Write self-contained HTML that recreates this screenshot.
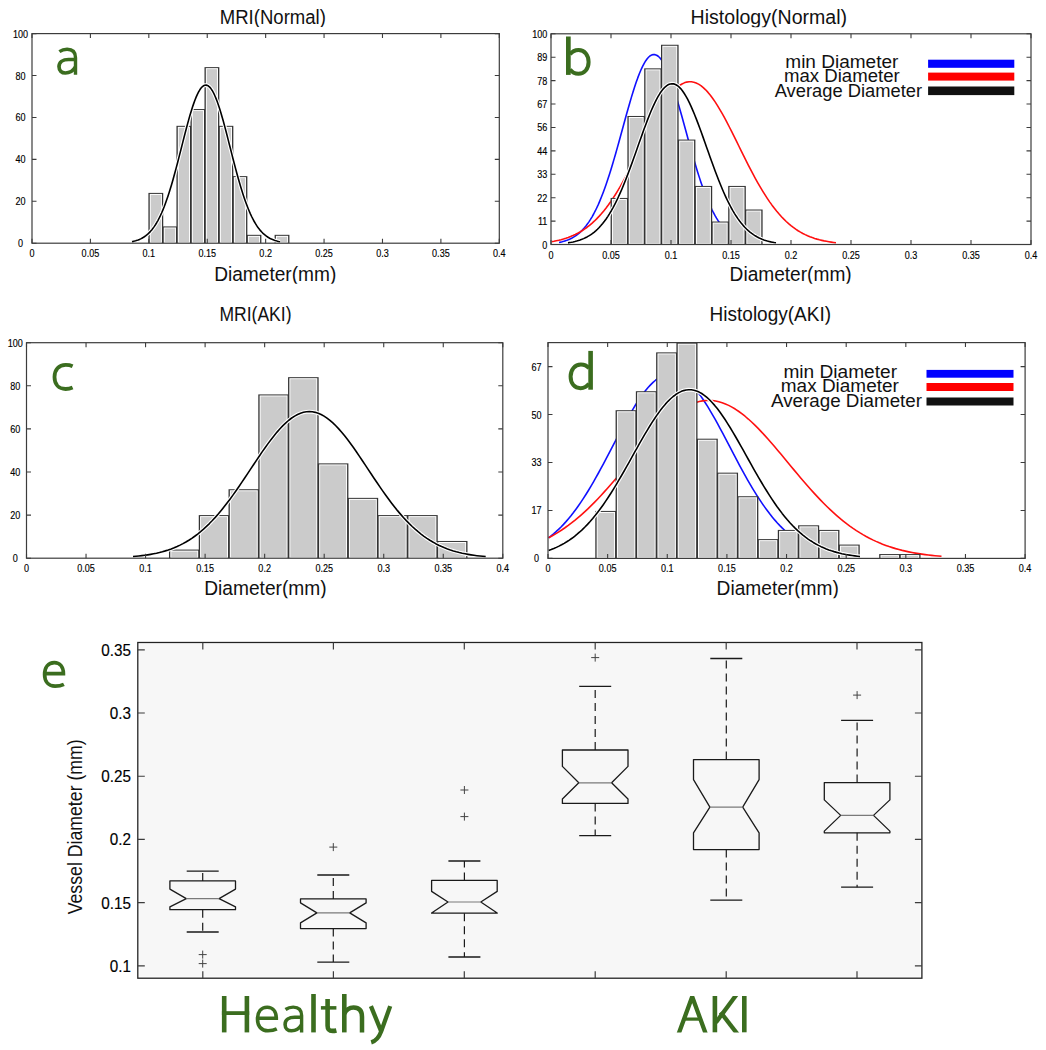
<!DOCTYPE html><html><head><meta charset="utf-8"><title>Figure</title><style>html,body{margin:0;padding:0;background:#fff;}svg{display:block;}</style></head><body><svg width="1046" height="1050" viewBox="0 0 1046 1050">
<style>.tk{font-family:"Liberation Sans",sans-serif;font-size:10.3px;fill:#000;stroke:#000;stroke-width:0.15px}.tt{font-family:"Liberation Sans",sans-serif;fill:#111}.lt{font-family:"Liberation Sans",sans-serif;fill:#3b6d1f}.ek{font-family:"Liberation Sans",sans-serif;font-size:16.6px;fill:#000;stroke:#000;stroke-width:0.15px}</style>
<rect width="1046" height="1050" fill="#ffffff"/>
<rect x="148.42" y="192.90" width="14.82" height="50.30" fill="#333333"/>
<rect x="149.72" y="193.90" width="12.22" height="49.30" fill="#ffffff"/>
<rect x="150.72" y="194.90" width="10.22" height="47.30" fill="#cbcbcb"/>
<rect x="162.44" y="226.43" width="14.82" height="16.77" fill="#333333"/>
<rect x="163.74" y="227.43" width="12.22" height="15.77" fill="#ffffff"/>
<rect x="164.74" y="228.43" width="10.22" height="13.77" fill="#cbcbcb"/>
<rect x="176.46" y="125.82" width="14.82" height="117.38" fill="#333333"/>
<rect x="177.76" y="126.82" width="12.22" height="116.38" fill="#ffffff"/>
<rect x="178.76" y="127.82" width="10.22" height="114.38" fill="#cbcbcb"/>
<rect x="190.48" y="109.06" width="14.82" height="134.14" fill="#333333"/>
<rect x="191.78" y="110.06" width="12.22" height="133.14" fill="#ffffff"/>
<rect x="192.78" y="111.06" width="10.22" height="131.14" fill="#cbcbcb"/>
<rect x="204.50" y="67.14" width="14.82" height="176.06" fill="#333333"/>
<rect x="205.80" y="68.14" width="12.22" height="175.06" fill="#ffffff"/>
<rect x="206.80" y="69.14" width="10.22" height="173.06" fill="#cbcbcb"/>
<rect x="218.52" y="125.82" width="14.82" height="117.38" fill="#333333"/>
<rect x="219.82" y="126.82" width="12.22" height="116.38" fill="#ffffff"/>
<rect x="220.82" y="127.82" width="10.22" height="114.38" fill="#cbcbcb"/>
<rect x="232.54" y="176.13" width="14.82" height="67.07" fill="#333333"/>
<rect x="233.84" y="177.13" width="12.22" height="66.07" fill="#ffffff"/>
<rect x="234.84" y="178.13" width="10.22" height="64.07" fill="#cbcbcb"/>
<rect x="246.56" y="234.82" width="14.82" height="8.38" fill="#333333"/>
<rect x="247.86" y="235.82" width="12.22" height="7.38" fill="#ffffff"/>
<rect x="248.86" y="236.82" width="10.22" height="5.38" fill="#cbcbcb"/>
<rect x="274.60" y="234.82" width="14.82" height="8.38" fill="#333333"/>
<rect x="275.90" y="235.82" width="12.22" height="7.38" fill="#ffffff"/>
<rect x="276.90" y="236.82" width="10.22" height="5.38" fill="#cbcbcb"/>
<path d="M132.00,241.63L133.23,241.37L134.47,241.07L135.70,240.73L136.93,240.35L138.17,239.91L139.40,239.42L140.63,238.86L141.87,238.24L143.10,237.53L144.33,236.75L145.57,235.88L146.80,234.90L148.03,233.83L149.27,232.64L150.50,231.33L151.73,229.90L152.97,228.33L154.20,226.61L155.43,224.75L156.67,222.73L157.90,220.54L159.13,218.19L160.37,215.67L161.60,212.97L162.83,210.08L164.07,207.02L165.30,203.78L166.53,200.35L167.77,196.75L169.00,192.97L170.23,189.03L171.47,184.93L172.70,180.68L173.93,176.29L175.17,171.78L176.40,167.15L177.63,162.44L178.87,157.66L180.10,152.83L181.33,147.97L182.57,143.10L183.80,138.26L185.03,133.47L186.27,128.75L187.50,124.14L188.73,119.66L189.97,115.34L191.20,111.21L192.43,107.30L193.67,103.63L194.90,100.23L196.13,97.13L197.37,94.34L198.60,91.89L199.83,89.79L201.07,88.07L202.30,86.73L203.53,85.79L204.77,85.24L206.00,85.11L207.23,85.37L208.47,86.05L209.70,87.12L210.93,88.59L212.17,90.43L213.40,92.65L214.63,95.21L215.87,98.10L217.10,101.30L218.33,104.79L219.57,108.54L220.80,112.53L222.03,116.72L223.27,121.09L224.50,125.62L225.73,130.27L226.97,135.01L228.20,139.83L229.43,144.68L230.67,149.54L231.90,154.40L233.13,159.22L234.37,163.98L235.60,168.66L236.83,173.25L238.07,177.73L239.30,182.07L240.53,186.28L241.77,190.33L243.00,194.22L244.23,197.94L245.47,201.48L246.70,204.85L247.93,208.03L249.17,211.04L250.40,213.86L251.63,216.51L252.87,218.97L254.10,221.27L255.33,223.40L256.57,225.37L257.80,227.18L259.03,228.85L260.27,230.38L261.50,231.77L262.73,233.04L263.97,234.19L265.20,235.23L266.43,236.17L267.67,237.01L268.90,237.77L270.13,238.45L271.37,239.05L272.60,239.59L273.83,240.06L275.07,240.48L276.30,240.85L277.53,241.17L278.77,241.46L280.00,241.71" fill="none" stroke="#ffffff" stroke-width="3.8000000000000003" stroke-linejoin="round"/>
<path d="M132.00,241.63L133.23,241.37L134.47,241.07L135.70,240.73L136.93,240.35L138.17,239.91L139.40,239.42L140.63,238.86L141.87,238.24L143.10,237.53L144.33,236.75L145.57,235.88L146.80,234.90L148.03,233.83L149.27,232.64L150.50,231.33L151.73,229.90L152.97,228.33L154.20,226.61L155.43,224.75L156.67,222.73L157.90,220.54L159.13,218.19L160.37,215.67L161.60,212.97L162.83,210.08L164.07,207.02L165.30,203.78L166.53,200.35L167.77,196.75L169.00,192.97L170.23,189.03L171.47,184.93L172.70,180.68L173.93,176.29L175.17,171.78L176.40,167.15L177.63,162.44L178.87,157.66L180.10,152.83L181.33,147.97L182.57,143.10L183.80,138.26L185.03,133.47L186.27,128.75L187.50,124.14L188.73,119.66L189.97,115.34L191.20,111.21L192.43,107.30L193.67,103.63L194.90,100.23L196.13,97.13L197.37,94.34L198.60,91.89L199.83,89.79L201.07,88.07L202.30,86.73L203.53,85.79L204.77,85.24L206.00,85.11L207.23,85.37L208.47,86.05L209.70,87.12L210.93,88.59L212.17,90.43L213.40,92.65L214.63,95.21L215.87,98.10L217.10,101.30L218.33,104.79L219.57,108.54L220.80,112.53L222.03,116.72L223.27,121.09L224.50,125.62L225.73,130.27L226.97,135.01L228.20,139.83L229.43,144.68L230.67,149.54L231.90,154.40L233.13,159.22L234.37,163.98L235.60,168.66L236.83,173.25L238.07,177.73L239.30,182.07L240.53,186.28L241.77,190.33L243.00,194.22L244.23,197.94L245.47,201.48L246.70,204.85L247.93,208.03L249.17,211.04L250.40,213.86L251.63,216.51L252.87,218.97L254.10,221.27L255.33,223.40L256.57,225.37L257.80,227.18L259.03,228.85L260.27,230.38L261.50,231.77L262.73,233.04L263.97,234.19L265.20,235.23L266.43,236.17L267.67,237.01L268.90,237.77L270.13,238.45L271.37,239.05L272.60,239.59L273.83,240.06L275.07,240.48L276.30,240.85L277.53,241.17L278.77,241.46L280.00,241.71" fill="none" stroke="#000" stroke-width="1.6" stroke-linejoin="round"/>
<rect x="32.00" y="33.60" width="467.30" height="209.60" fill="none" stroke="#3c3c3c" stroke-width="1.2"/>
<path d="M32.00,243.20v-4.5M32.00,33.60v4.5M90.41,243.20v-4.5M90.41,33.60v4.5M148.82,243.20v-4.5M148.82,33.60v4.5M207.24,243.20v-4.5M207.24,33.60v4.5M265.65,243.20v-4.5M265.65,33.60v4.5M324.06,243.20v-4.5M324.06,33.60v4.5M382.48,243.20v-4.5M382.48,33.60v4.5M440.89,243.20v-4.5M440.89,33.60v4.5M499.30,243.20v-4.5M499.30,33.60v4.5M32.00,243.20h4.5M499.30,243.20h-4.5M32.00,201.28h4.5M499.30,201.28h-4.5M32.00,159.36h4.5M499.30,159.36h-4.5M32.00,117.44h4.5M499.30,117.44h-4.5M32.00,75.52h4.5M499.30,75.52h-4.5M32.00,33.60h4.5M499.30,33.60h-4.5" stroke="#3c3c3c" stroke-width="1.1" fill="none"/>
<text transform="translate(32.00,256.60) scale(0.88,1)" text-anchor="middle" class="tk">0</text>
<text transform="translate(90.41,256.60) scale(0.88,1)" text-anchor="middle" class="tk">0.05</text>
<text transform="translate(148.82,256.60) scale(0.88,1)" text-anchor="middle" class="tk">0.1</text>
<text transform="translate(207.24,256.60) scale(0.88,1)" text-anchor="middle" class="tk">0.15</text>
<text transform="translate(265.65,256.60) scale(0.88,1)" text-anchor="middle" class="tk">0.2</text>
<text transform="translate(324.06,256.60) scale(0.88,1)" text-anchor="middle" class="tk">0.25</text>
<text transform="translate(382.48,256.60) scale(0.88,1)" text-anchor="middle" class="tk">0.3</text>
<text transform="translate(440.89,256.60) scale(0.88,1)" text-anchor="middle" class="tk">0.35</text>
<text transform="translate(499.30,256.60) scale(0.88,1)" text-anchor="middle" class="tk">0.4</text>
<text transform="translate(20.50,247.20) scale(0.88,1)" text-anchor="middle" class="tk">0</text>
<text transform="translate(20.50,205.28) scale(0.88,1)" text-anchor="middle" class="tk">20</text>
<text transform="translate(20.50,163.36) scale(0.88,1)" text-anchor="middle" class="tk">40</text>
<text transform="translate(20.50,121.44) scale(0.88,1)" text-anchor="middle" class="tk">60</text>
<text transform="translate(20.50,79.52) scale(0.88,1)" text-anchor="middle" class="tk">80</text>
<text transform="translate(20.50,37.60) scale(0.88,1)" text-anchor="middle" class="tk">100</text>
<text id="ta" x="219.80" y="23.60" textLength="106.05" lengthAdjust="spacingAndGlyphs" class="tt" style="font-size:20px" clip-path="url(#c0)">MRI(Normal)</text>
<text id="xa" x="214.20" y="280.90" textLength="122.06" lengthAdjust="spacingAndGlyphs" class="tt" style="font-size:19.3px" clip-path="url(#c1)">Diameter(mm)</text>
<path d="M59.4,51.7C61.7,50.1 64.2,49.3 67.1,49.3C72.5,49.3 75.5,52.2 75.5,57.8V74.8" fill="none" stroke="#3b6d1f" stroke-width="3.4"/>
<path d="M75.5,59.5H68.6C62.6,59.5 59.0,62.4 59.0,66.6C59.0,70.6 61.7,73.0 65.4,73.0C69.8,73.0 73.3,70.6 75.5,66.9" fill="none" stroke="#3b6d1f" stroke-width="3.7"/>
<path d="M559.00,242.47L560.58,242.14L562.15,241.77L563.73,241.34L565.30,240.86L566.88,240.32L568.45,239.70L570.02,239.01L571.60,238.24L573.17,237.38L574.75,236.41L576.33,235.34L577.90,234.16L579.48,232.84L581.05,231.40L582.62,229.81L584.20,228.07L585.77,226.17L587.35,224.11L588.92,221.86L590.50,219.43L592.08,216.81L593.65,214.00L595.23,210.98L596.80,207.75L598.38,204.32L599.95,200.67L601.52,196.81L603.10,192.74L604.67,188.46L606.25,183.98L607.83,179.31L609.40,174.45L610.98,169.42L612.55,164.23L614.12,158.89L615.70,153.42L617.27,147.85L618.85,142.19L620.42,136.48L622.00,130.72L623.58,124.96L625.15,119.22L626.73,113.54L628.30,107.94L629.88,102.45L631.45,97.11L633.02,91.96L634.60,87.02L636.17,82.32L637.75,77.90L639.33,73.79L640.90,70.01L642.48,66.60L644.05,63.57L645.62,60.94L647.20,58.75L648.77,57.00L650.35,55.70L651.92,54.87L653.50,54.52L655.08,54.63L656.65,55.22L658.23,56.28L659.80,57.80L661.38,59.78L662.95,62.18L664.52,65.01L666.10,68.23L667.67,71.83L669.25,75.77L670.83,80.04L672.40,84.60L673.98,89.42L675.55,94.47L677.12,99.72L678.70,105.13L680.27,110.68L681.85,116.33L683.42,122.04L685.00,127.80L686.58,133.56L688.15,139.29L689.73,144.99L691.30,150.60L692.88,156.13L694.45,161.53L696.02,166.80L697.60,171.92L699.17,176.87L700.75,181.63L702.33,186.21L703.90,190.59L705.48,194.77L707.05,198.73L708.62,202.49L710.20,206.03L711.77,209.37L713.35,212.49L714.92,215.41L716.50,218.13L718.08,220.65L719.65,222.99L721.23,225.14L722.80,227.13L724.38,228.95L725.95,230.61L727.52,232.13L729.10,233.51L730.67,234.75L732.25,235.88L733.83,236.90L735.40,237.81L736.98,238.63L738.55,239.36L740.12,240.02L741.70,240.59L743.27,241.11L744.85,241.56L746.42,241.96L748.00,242.31" fill="none" stroke="#1010ff" stroke-width="1.6" stroke-linejoin="round"/>
<path d="M551.60,241.69L553.97,241.28L556.34,240.81L558.71,240.29L561.08,239.70L563.45,239.04L565.82,238.31L568.19,237.50L570.56,236.59L572.93,235.60L575.30,234.50L577.67,233.29L580.04,231.97L582.41,230.52L584.78,228.94L587.15,227.23L589.52,225.37L591.89,223.37L594.26,221.21L596.63,218.89L599.00,216.40L601.37,213.75L603.74,210.93L606.11,207.93L608.48,204.76L610.85,201.42L613.22,197.91L615.59,194.24L617.96,190.40L620.33,186.41L622.70,182.27L625.07,177.99L627.44,173.59L629.81,169.08L632.18,164.47L634.55,159.78L636.92,155.04L639.29,150.24L641.66,145.43L644.03,140.62L646.40,135.84L648.77,131.10L651.14,126.44L653.51,121.88L655.88,117.44L658.25,113.16L660.62,109.06L662.99,105.16L665.36,101.48L667.73,98.06L670.10,94.92L672.47,92.07L674.84,89.53L677.21,87.33L679.58,85.47L681.95,83.97L684.32,82.85L686.69,82.10L689.06,81.74L691.43,81.76L693.80,82.17L696.17,82.96L698.54,84.14L700.91,85.68L703.28,87.58L705.65,89.82L708.02,92.40L710.39,95.29L712.76,98.47L715.13,101.92L717.50,105.62L719.87,109.55L722.24,113.68L724.61,117.98L726.98,122.43L729.35,127.00L731.72,131.68L734.09,136.42L736.46,141.21L738.83,146.02L741.20,150.83L743.57,155.62L745.94,160.36L748.31,165.04L750.68,169.64L753.05,174.14L755.42,178.52L757.79,182.78L760.16,186.90L762.53,190.88L764.90,194.69L767.27,198.35L769.64,201.84L772.01,205.16L774.38,208.31L776.75,211.28L779.12,214.08L781.49,216.72L783.86,219.18L786.23,221.48L788.60,223.62L790.97,225.61L793.34,227.45L795.71,229.14L798.08,230.71L800.45,232.14L802.82,233.45L805.19,234.64L807.56,235.73L809.93,236.71L812.30,237.60L814.67,238.40L817.04,239.13L819.41,239.78L821.78,240.35L824.15,240.87L826.52,241.33L828.89,241.74L831.26,242.10L833.63,242.42L836.00,242.70" fill="none" stroke="#ff1010" stroke-width="1.6" stroke-linejoin="round"/>
<rect x="610.60" y="197.94" width="17.60" height="46.56" fill="#333333"/>
<rect x="611.90" y="198.94" width="15.00" height="45.56" fill="#ffffff"/>
<rect x="612.90" y="199.94" width="13.00" height="43.56" fill="#cbcbcb"/>
<rect x="627.40" y="115.97" width="17.60" height="128.53" fill="#333333"/>
<rect x="628.70" y="116.97" width="15.00" height="127.53" fill="#ffffff"/>
<rect x="629.70" y="117.97" width="13.00" height="125.53" fill="#cbcbcb"/>
<rect x="644.20" y="68.35" width="17.60" height="176.15" fill="#333333"/>
<rect x="645.50" y="69.35" width="15.00" height="175.15" fill="#ffffff"/>
<rect x="646.50" y="70.35" width="13.00" height="173.15" fill="#cbcbcb"/>
<rect x="661.00" y="44.76" width="17.60" height="199.74" fill="#333333"/>
<rect x="662.30" y="45.76" width="15.00" height="198.74" fill="#ffffff"/>
<rect x="663.30" y="46.76" width="13.00" height="196.74" fill="#cbcbcb"/>
<rect x="677.80" y="139.57" width="17.60" height="104.93" fill="#333333"/>
<rect x="679.10" y="140.57" width="15.00" height="103.93" fill="#ffffff"/>
<rect x="680.10" y="141.57" width="13.00" height="101.93" fill="#cbcbcb"/>
<rect x="694.60" y="185.93" width="17.60" height="58.57" fill="#333333"/>
<rect x="695.90" y="186.93" width="15.00" height="57.57" fill="#ffffff"/>
<rect x="696.90" y="187.93" width="13.00" height="55.57" fill="#cbcbcb"/>
<rect x="711.40" y="221.53" width="17.60" height="22.97" fill="#333333"/>
<rect x="712.70" y="222.53" width="15.00" height="21.97" fill="#ffffff"/>
<rect x="713.70" y="223.53" width="13.00" height="19.97" fill="#cbcbcb"/>
<rect x="728.20" y="185.93" width="17.60" height="58.57" fill="#333333"/>
<rect x="729.50" y="186.93" width="15.00" height="57.57" fill="#ffffff"/>
<rect x="730.50" y="187.93" width="13.00" height="55.57" fill="#cbcbcb"/>
<rect x="745.00" y="209.52" width="17.60" height="34.98" fill="#333333"/>
<rect x="746.30" y="210.52" width="15.00" height="33.98" fill="#ffffff"/>
<rect x="747.30" y="211.52" width="13.00" height="31.98" fill="#cbcbcb"/>
<path d="M568.00,242.85L569.73,242.58L571.47,242.27L573.20,241.92L574.93,241.52L576.67,241.07L578.40,240.56L580.13,239.99L581.87,239.35L583.60,238.62L585.33,237.82L587.07,236.92L588.80,235.93L590.53,234.83L592.27,233.62L594.00,232.28L595.73,230.82L597.47,229.22L599.20,227.47L600.93,225.58L602.67,223.53L604.40,221.31L606.13,218.93L607.87,216.37L609.60,213.63L611.33,210.72L613.07,207.62L614.80,204.34L616.53,200.88L618.27,197.24L620.00,193.43L621.73,189.45L623.47,185.31L625.20,181.02L626.93,176.59L628.67,172.04L630.40,167.37L632.13,162.62L633.87,157.79L635.60,152.92L637.33,148.01L639.07,143.10L640.80,138.21L642.53,133.36L644.27,128.59L646.00,123.92L647.73,119.38L649.47,115.00L651.20,110.80L652.93,106.82L654.67,103.08L656.40,99.60L658.13,96.42L659.87,93.55L661.60,91.02L663.33,88.84L665.07,87.03L666.80,85.60L668.53,84.56L670.27,83.93L672.00,83.70L673.73,83.88L675.47,84.47L677.20,85.46L678.93,86.84L680.67,88.61L682.40,90.75L684.13,93.24L685.87,96.07L687.60,99.22L689.33,102.66L691.07,106.37L692.80,110.33L694.53,114.50L696.27,118.86L698.00,123.39L699.73,128.04L701.47,132.80L703.20,137.64L704.93,142.53L706.67,147.44L708.40,152.35L710.13,157.23L711.87,162.07L713.60,166.83L715.33,171.50L717.07,176.07L718.80,180.51L720.53,184.82L722.27,188.98L724.00,192.98L725.73,196.81L727.47,200.47L729.20,203.95L730.93,207.25L732.67,210.37L734.40,213.31L736.13,216.06L737.87,218.64L739.60,221.05L741.33,223.28L743.07,225.35L744.80,227.26L746.53,229.02L748.27,230.64L750.00,232.12L751.73,233.47L753.47,234.70L755.20,235.81L756.93,236.81L758.67,237.72L760.40,238.54L762.13,239.27L763.87,239.92L765.60,240.50L767.33,241.02L769.07,241.47L770.80,241.88L772.53,242.23L774.27,242.55L776.00,242.82" fill="none" stroke="#ffffff" stroke-width="3.8000000000000003" stroke-linejoin="round"/>
<path d="M568.00,242.85L569.73,242.58L571.47,242.27L573.20,241.92L574.93,241.52L576.67,241.07L578.40,240.56L580.13,239.99L581.87,239.35L583.60,238.62L585.33,237.82L587.07,236.92L588.80,235.93L590.53,234.83L592.27,233.62L594.00,232.28L595.73,230.82L597.47,229.22L599.20,227.47L600.93,225.58L602.67,223.53L604.40,221.31L606.13,218.93L607.87,216.37L609.60,213.63L611.33,210.72L613.07,207.62L614.80,204.34L616.53,200.88L618.27,197.24L620.00,193.43L621.73,189.45L623.47,185.31L625.20,181.02L626.93,176.59L628.67,172.04L630.40,167.37L632.13,162.62L633.87,157.79L635.60,152.92L637.33,148.01L639.07,143.10L640.80,138.21L642.53,133.36L644.27,128.59L646.00,123.92L647.73,119.38L649.47,115.00L651.20,110.80L652.93,106.82L654.67,103.08L656.40,99.60L658.13,96.42L659.87,93.55L661.60,91.02L663.33,88.84L665.07,87.03L666.80,85.60L668.53,84.56L670.27,83.93L672.00,83.70L673.73,83.88L675.47,84.47L677.20,85.46L678.93,86.84L680.67,88.61L682.40,90.75L684.13,93.24L685.87,96.07L687.60,99.22L689.33,102.66L691.07,106.37L692.80,110.33L694.53,114.50L696.27,118.86L698.00,123.39L699.73,128.04L701.47,132.80L703.20,137.64L704.93,142.53L706.67,147.44L708.40,152.35L710.13,157.23L711.87,162.07L713.60,166.83L715.33,171.50L717.07,176.07L718.80,180.51L720.53,184.82L722.27,188.98L724.00,192.98L725.73,196.81L727.47,200.47L729.20,203.95L730.93,207.25L732.67,210.37L734.40,213.31L736.13,216.06L737.87,218.64L739.60,221.05L741.33,223.28L743.07,225.35L744.80,227.26L746.53,229.02L748.27,230.64L750.00,232.12L751.73,233.47L753.47,234.70L755.20,235.81L756.93,236.81L758.67,237.72L760.40,238.54L762.13,239.27L763.87,239.92L765.60,240.50L767.33,241.02L769.07,241.47L770.80,241.88L772.53,242.23L774.27,242.55L776.00,242.82" fill="none" stroke="#000" stroke-width="1.6" stroke-linejoin="round"/>
<rect x="551.00" y="33.80" width="480.00" height="210.70" fill="none" stroke="#3c3c3c" stroke-width="1.2"/>
<path d="M551.00,244.50v-4.5M551.00,33.80v4.5M611.00,244.50v-4.5M611.00,33.80v4.5M671.00,244.50v-4.5M671.00,33.80v4.5M731.00,244.50v-4.5M731.00,33.80v4.5M791.00,244.50v-4.5M791.00,33.80v4.5M851.00,244.50v-4.5M851.00,33.80v4.5M911.00,244.50v-4.5M911.00,33.80v4.5M971.00,244.50v-4.5M971.00,33.80v4.5M1031.00,244.50v-4.5M1031.00,33.80v4.5M551.00,244.50h4.5M1031.00,244.50h-4.5M551.00,221.09h4.5M1031.00,221.09h-4.5M551.00,197.68h4.5M1031.00,197.68h-4.5M551.00,174.27h4.5M1031.00,174.27h-4.5M551.00,150.86h4.5M1031.00,150.86h-4.5M551.00,127.44h4.5M1031.00,127.44h-4.5M551.00,104.03h4.5M1031.00,104.03h-4.5M551.00,80.62h4.5M1031.00,80.62h-4.5M551.00,57.21h4.5M1031.00,57.21h-4.5M551.00,33.80h4.5M1031.00,33.80h-4.5" stroke="#3c3c3c" stroke-width="1.1" fill="none"/>
<text transform="translate(551.00,259.20) scale(0.88,1)" text-anchor="middle" class="tk">0</text>
<text transform="translate(611.00,259.20) scale(0.88,1)" text-anchor="middle" class="tk">0.05</text>
<text transform="translate(671.00,259.20) scale(0.88,1)" text-anchor="middle" class="tk">0.1</text>
<text transform="translate(731.00,259.20) scale(0.88,1)" text-anchor="middle" class="tk">0.15</text>
<text transform="translate(791.00,259.20) scale(0.88,1)" text-anchor="middle" class="tk">0.2</text>
<text transform="translate(851.00,259.20) scale(0.88,1)" text-anchor="middle" class="tk">0.25</text>
<text transform="translate(911.00,259.20) scale(0.88,1)" text-anchor="middle" class="tk">0.3</text>
<text transform="translate(971.00,259.20) scale(0.88,1)" text-anchor="middle" class="tk">0.35</text>
<text transform="translate(1031.00,259.20) scale(0.88,1)" text-anchor="middle" class="tk">0.4</text>
<text transform="translate(547.40,248.50) scale(0.88,1)" text-anchor="end" class="tk">0</text>
<text transform="translate(547.40,225.09) scale(0.88,1)" text-anchor="end" class="tk">11</text>
<text transform="translate(547.40,201.68) scale(0.88,1)" text-anchor="end" class="tk">22</text>
<text transform="translate(547.40,178.27) scale(0.88,1)" text-anchor="end" class="tk">33</text>
<text transform="translate(547.40,154.86) scale(0.88,1)" text-anchor="end" class="tk">44</text>
<text transform="translate(547.40,131.44) scale(0.88,1)" text-anchor="end" class="tk">56</text>
<text transform="translate(547.40,108.03) scale(0.88,1)" text-anchor="end" class="tk">67</text>
<text transform="translate(547.40,84.62) scale(0.88,1)" text-anchor="end" class="tk">78</text>
<text transform="translate(547.40,61.21) scale(0.88,1)" text-anchor="end" class="tk">89</text>
<text transform="translate(547.40,37.80) scale(0.88,1)" text-anchor="end" class="tk">100</text>
<text id="tb" x="690.60" y="24.00" textLength="156.47" lengthAdjust="spacingAndGlyphs" class="tt" style="font-size:20px" clip-path="url(#c2)">Histology(Normal)</text>
<text id="xb" x="729.60" y="280.90" textLength="122.09" lengthAdjust="spacingAndGlyphs" class="tt" style="font-size:19.3px" clip-path="url(#c3)">Diameter(mm)</text>
<rect x="566.0" y="36.5" width="4.7" height="38.4" fill="#3b6d1f"/>
<path d="M570.0,54.4C572.0,51.6 575.0,50.05 578.6,50.05C584.6,50.05 588.6,55.2 588.6,62.1C588.6,69.0 584.4,73.8 578.4,73.8C575.0,73.8 572.1,72.3 570.0,69.4" fill="none" stroke="#3b6d1f" stroke-width="4.0"/>
<text id="gb0" x="785.30" y="68.10" textLength="113.11" lengthAdjust="spacingAndGlyphs" class="tt" style="font-size:17.5px">min Diameter</text>
<rect x="928.10" y="59.70" width="86.20" height="8.10" fill="#0000ff"/>
<text id="gb1" x="784.00" y="82.40" textLength="115.71" lengthAdjust="spacingAndGlyphs" class="tt" style="font-size:17.5px">max Diameter</text>
<rect x="928.10" y="72.60" width="86.20" height="8.00" fill="#ff0000"/>
<text id="gb2" x="774.70" y="96.70" textLength="147.40" lengthAdjust="spacingAndGlyphs" class="tt" style="font-size:17.5px">Average Diameter</text>
<rect x="928.10" y="86.50" width="86.20" height="8.60" fill="#111111"/>
<rect x="168.99" y="549.58" width="30.57" height="8.62" fill="#333333"/>
<rect x="170.29" y="550.58" width="27.97" height="7.62" fill="#ffffff"/>
<rect x="171.29" y="551.58" width="25.97" height="5.62" fill="#cbcbcb"/>
<rect x="198.76" y="515.10" width="30.57" height="43.10" fill="#333333"/>
<rect x="200.06" y="516.10" width="27.97" height="42.10" fill="#ffffff"/>
<rect x="201.06" y="517.10" width="25.97" height="40.10" fill="#cbcbcb"/>
<rect x="228.53" y="489.24" width="30.57" height="68.96" fill="#333333"/>
<rect x="229.83" y="490.24" width="27.97" height="67.96" fill="#ffffff"/>
<rect x="230.83" y="491.24" width="25.97" height="65.96" fill="#cbcbcb"/>
<rect x="258.30" y="394.42" width="30.57" height="163.78" fill="#333333"/>
<rect x="259.60" y="395.42" width="27.97" height="162.78" fill="#ffffff"/>
<rect x="260.60" y="396.42" width="25.97" height="160.78" fill="#cbcbcb"/>
<rect x="288.06" y="377.18" width="30.57" height="181.02" fill="#333333"/>
<rect x="289.36" y="378.18" width="27.97" height="180.02" fill="#ffffff"/>
<rect x="290.36" y="379.18" width="25.97" height="178.02" fill="#cbcbcb"/>
<rect x="317.83" y="463.38" width="30.57" height="94.82" fill="#333333"/>
<rect x="319.13" y="464.38" width="27.97" height="93.82" fill="#ffffff"/>
<rect x="320.13" y="465.38" width="25.97" height="91.82" fill="#cbcbcb"/>
<rect x="347.60" y="497.86" width="30.57" height="60.34" fill="#333333"/>
<rect x="348.90" y="498.86" width="27.97" height="59.34" fill="#ffffff"/>
<rect x="349.90" y="499.86" width="25.97" height="57.34" fill="#cbcbcb"/>
<rect x="377.37" y="515.10" width="30.57" height="43.10" fill="#333333"/>
<rect x="378.67" y="516.10" width="27.97" height="42.10" fill="#ffffff"/>
<rect x="379.67" y="517.10" width="25.97" height="40.10" fill="#cbcbcb"/>
<rect x="407.14" y="515.10" width="30.57" height="43.10" fill="#333333"/>
<rect x="408.44" y="516.10" width="27.97" height="42.10" fill="#ffffff"/>
<rect x="409.44" y="517.10" width="25.97" height="40.10" fill="#cbcbcb"/>
<rect x="436.91" y="540.96" width="30.57" height="17.24" fill="#333333"/>
<rect x="438.21" y="541.96" width="27.97" height="16.24" fill="#ffffff"/>
<rect x="439.21" y="542.96" width="25.97" height="14.24" fill="#cbcbcb"/>
<path d="M133.00,556.56L135.94,556.30L138.88,556.00L141.82,555.66L144.76,555.28L147.70,554.84L150.63,554.35L153.57,553.80L156.51,553.19L159.45,552.50L162.39,551.73L165.33,550.88L168.27,549.94L171.21,548.90L174.15,547.75L177.09,546.50L180.03,545.12L182.97,543.62L185.91,541.99L188.84,540.22L191.78,538.30L194.72,536.24L197.66,534.02L200.60,531.65L203.54,529.12L206.48,526.42L209.42,523.56L212.36,520.54L215.30,517.35L218.24,514.01L221.18,510.51L224.11,506.87L227.05,503.08L229.99,499.17L232.93,495.13L235.87,490.98L238.81,486.74L241.75,482.42L244.69,478.04L247.63,473.62L250.57,469.18L253.51,464.74L256.44,460.32L259.38,455.95L262.32,451.65L265.26,447.45L268.20,443.37L271.14,439.44L274.08,435.67L277.02,432.11L279.96,428.76L282.90,425.66L285.84,422.82L288.78,420.26L291.72,418.01L294.65,416.08L297.59,414.48L300.53,413.22L303.47,412.32L306.41,411.78L309.35,411.60L312.29,411.79L315.23,412.34L318.17,413.26L321.11,414.53L324.05,416.14L326.99,418.08L329.92,420.35L332.86,422.91L335.80,425.76L338.74,428.87L341.68,432.23L344.62,435.80L347.56,439.57L350.50,443.51L353.44,447.59L356.38,451.80L359.32,456.10L362.25,460.47L365.19,464.89L368.13,469.33L371.07,473.77L374.01,478.19L376.95,482.57L379.89,486.89L382.83,491.12L385.77,495.27L388.71,499.30L391.65,503.21L394.59,507.00L397.52,510.64L400.46,514.13L403.40,517.47L406.34,520.64L409.28,523.66L412.22,526.52L415.16,529.21L418.10,531.73L421.04,534.10L423.98,536.31L426.92,538.37L429.86,540.28L432.80,542.05L435.73,543.67L438.67,545.17L441.61,546.54L444.55,547.80L447.49,548.94L450.43,549.97L453.37,550.91L456.31,551.76L459.25,552.52L462.19,553.21L465.13,553.82L468.06,554.37L471.00,554.86L473.94,555.29L476.88,555.67L479.82,556.01L482.76,556.31L485.70,556.57" fill="none" stroke="#ffffff" stroke-width="3.8000000000000003" stroke-linejoin="round"/>
<path d="M133.00,556.56L135.94,556.30L138.88,556.00L141.82,555.66L144.76,555.28L147.70,554.84L150.63,554.35L153.57,553.80L156.51,553.19L159.45,552.50L162.39,551.73L165.33,550.88L168.27,549.94L171.21,548.90L174.15,547.75L177.09,546.50L180.03,545.12L182.97,543.62L185.91,541.99L188.84,540.22L191.78,538.30L194.72,536.24L197.66,534.02L200.60,531.65L203.54,529.12L206.48,526.42L209.42,523.56L212.36,520.54L215.30,517.35L218.24,514.01L221.18,510.51L224.11,506.87L227.05,503.08L229.99,499.17L232.93,495.13L235.87,490.98L238.81,486.74L241.75,482.42L244.69,478.04L247.63,473.62L250.57,469.18L253.51,464.74L256.44,460.32L259.38,455.95L262.32,451.65L265.26,447.45L268.20,443.37L271.14,439.44L274.08,435.67L277.02,432.11L279.96,428.76L282.90,425.66L285.84,422.82L288.78,420.26L291.72,418.01L294.65,416.08L297.59,414.48L300.53,413.22L303.47,412.32L306.41,411.78L309.35,411.60L312.29,411.79L315.23,412.34L318.17,413.26L321.11,414.53L324.05,416.14L326.99,418.08L329.92,420.35L332.86,422.91L335.80,425.76L338.74,428.87L341.68,432.23L344.62,435.80L347.56,439.57L350.50,443.51L353.44,447.59L356.38,451.80L359.32,456.10L362.25,460.47L365.19,464.89L368.13,469.33L371.07,473.77L374.01,478.19L376.95,482.57L379.89,486.89L382.83,491.12L385.77,495.27L388.71,499.30L391.65,503.21L394.59,507.00L397.52,510.64L400.46,514.13L403.40,517.47L406.34,520.64L409.28,523.66L412.22,526.52L415.16,529.21L418.10,531.73L421.04,534.10L423.98,536.31L426.92,538.37L429.86,540.28L432.80,542.05L435.73,543.67L438.67,545.17L441.61,546.54L444.55,547.80L447.49,548.94L450.43,549.97L453.37,550.91L456.31,551.76L459.25,552.52L462.19,553.21L465.13,553.82L468.06,554.37L471.00,554.86L473.94,555.29L476.88,555.67L479.82,556.01L482.76,556.31L485.70,556.57" fill="none" stroke="#000" stroke-width="1.6" stroke-linejoin="round"/>
<rect x="26.50" y="342.70" width="476.30" height="215.50" fill="none" stroke="#3c3c3c" stroke-width="1.2"/>
<path d="M26.50,558.20v-4.5M26.50,342.70v4.5M86.04,558.20v-4.5M86.04,342.70v4.5M145.57,558.20v-4.5M145.57,342.70v4.5M205.11,558.20v-4.5M205.11,342.70v4.5M264.65,558.20v-4.5M264.65,342.70v4.5M324.19,558.20v-4.5M324.19,342.70v4.5M383.73,558.20v-4.5M383.73,342.70v4.5M443.26,558.20v-4.5M443.26,342.70v4.5M502.80,558.20v-4.5M502.80,342.70v4.5M26.50,558.20h4.5M502.80,558.20h-4.5M26.50,515.10h4.5M502.80,515.10h-4.5M26.50,472.00h4.5M502.80,472.00h-4.5M26.50,428.90h4.5M502.80,428.90h-4.5M26.50,385.80h4.5M502.80,385.80h-4.5M26.50,342.70h4.5M502.80,342.70h-4.5" stroke="#3c3c3c" stroke-width="1.1" fill="none"/>
<text transform="translate(26.50,571.80) scale(0.88,1)" text-anchor="middle" class="tk">0</text>
<text transform="translate(86.04,571.80) scale(0.88,1)" text-anchor="middle" class="tk">0.05</text>
<text transform="translate(145.57,571.80) scale(0.88,1)" text-anchor="middle" class="tk">0.1</text>
<text transform="translate(205.11,571.80) scale(0.88,1)" text-anchor="middle" class="tk">0.15</text>
<text transform="translate(264.65,571.80) scale(0.88,1)" text-anchor="middle" class="tk">0.2</text>
<text transform="translate(324.19,571.80) scale(0.88,1)" text-anchor="middle" class="tk">0.25</text>
<text transform="translate(383.73,571.80) scale(0.88,1)" text-anchor="middle" class="tk">0.3</text>
<text transform="translate(443.26,571.80) scale(0.88,1)" text-anchor="middle" class="tk">0.35</text>
<text transform="translate(502.80,571.80) scale(0.88,1)" text-anchor="middle" class="tk">0.4</text>
<text transform="translate(15.20,562.20) scale(0.88,1)" text-anchor="middle" class="tk">0</text>
<text transform="translate(15.20,519.10) scale(0.88,1)" text-anchor="middle" class="tk">20</text>
<text transform="translate(15.20,476.00) scale(0.88,1)" text-anchor="middle" class="tk">40</text>
<text transform="translate(15.20,432.90) scale(0.88,1)" text-anchor="middle" class="tk">60</text>
<text transform="translate(15.20,389.80) scale(0.88,1)" text-anchor="middle" class="tk">80</text>
<text transform="translate(15.20,346.70) scale(0.88,1)" text-anchor="middle" class="tk">100</text>
<text id="tc" x="219.40" y="321.00" textLength="72.09" lengthAdjust="spacingAndGlyphs" class="tt" style="font-size:20px" clip-path="url(#c4)">MRI(AKI)</text>
<text id="xc" x="204.20" y="595.40" textLength="122.43" lengthAdjust="spacingAndGlyphs" class="tt" style="font-size:19.3px" clip-path="url(#c5)">Diameter(mm)</text>
<path d="M72.6,366.2C70.6,365.3 68.2,364.9 65.7,364.9C58.7,364.9 54.5,369.9 54.5,377.1C54.5,384.4 58.9,389.0 65.6,389.0C68.3,389.0 70.6,388.5 72.6,387.6" fill="none" stroke="#3b6d1f" stroke-width="3.8"/>
<path d="M548.60,537.79L551.09,535.89L553.57,533.86L556.06,531.70L558.55,529.40L561.03,526.96L563.52,524.37L566.01,521.64L568.49,518.75L570.98,515.72L573.47,512.54L575.95,509.22L578.44,505.74L580.93,502.13L583.41,498.37L585.90,494.48L588.39,490.46L590.87,486.32L593.36,482.06L595.85,477.69L598.33,473.24L600.82,468.69L603.31,464.08L605.79,459.41L608.28,454.69L610.77,449.94L613.25,445.18L615.74,440.43L618.23,435.70L620.71,431.01L623.20,426.38L625.69,421.83L628.17,417.37L630.66,413.03L633.15,408.83L635.63,404.79L638.12,400.92L640.61,397.25L643.09,393.79L645.58,390.56L648.07,387.57L650.55,384.84L653.04,382.39L655.53,380.23L658.01,378.36L660.50,376.81L662.99,375.57L665.47,374.65L667.96,374.07L670.45,373.81L672.93,373.89L675.42,374.30L677.91,375.05L680.39,376.11L682.88,377.50L685.37,379.21L687.85,381.22L690.34,383.52L692.83,386.10L695.31,388.95L697.80,392.06L700.29,395.40L702.77,398.97L705.26,402.74L707.75,406.69L710.23,410.81L712.72,415.08L715.21,419.47L717.69,423.97L720.18,428.57L722.67,433.23L725.15,437.94L727.64,442.68L730.13,447.44L732.61,452.20L735.10,456.93L737.59,461.63L740.07,466.28L742.56,470.86L745.05,475.36L747.53,479.78L750.02,484.09L752.51,488.30L754.99,492.38L757.48,496.34L759.97,500.17L762.45,503.86L764.94,507.41L767.43,510.81L769.91,514.07L772.40,517.18L774.89,520.14L777.37,522.95L779.86,525.61L782.35,528.13L784.83,530.51L787.32,532.74L789.81,534.84L792.29,536.81L794.78,538.65L797.27,540.36L799.75,541.96L802.24,543.44L804.73,544.81L807.21,546.08L809.70,547.25L812.19,548.33L814.67,549.32L817.16,550.22L819.65,551.05L822.13,551.81L824.62,552.50L827.11,553.13L829.59,553.70L832.08,554.21L834.57,554.68L837.05,555.10L839.54,555.48L842.03,555.82L844.51,556.12L847.00,556.39" fill="none" stroke="#1010ff" stroke-width="1.6" stroke-linejoin="round"/>
<path d="M548.60,537.76L551.87,535.99L555.15,534.10L558.42,532.11L561.70,529.99L564.97,527.76L568.25,525.41L571.52,522.94L574.79,520.35L578.07,517.63L581.34,514.80L584.62,511.86L587.89,508.80L591.16,505.62L594.44,502.34L597.71,498.96L600.99,495.48L604.26,491.91L607.53,488.26L610.81,484.54L614.08,480.74L617.36,476.90L620.63,473.00L623.91,469.08L627.18,465.13L630.45,461.17L633.73,457.22L637.00,453.29L640.28,449.39L643.55,445.54L646.83,441.75L650.10,438.04L653.37,434.42L656.65,430.92L659.92,427.53L663.20,424.29L666.47,421.20L669.74,418.27L673.02,415.53L676.29,412.98L679.57,410.64L682.84,408.52L686.12,406.63L689.39,404.97L692.66,403.56L695.94,402.40L699.21,401.50L702.49,400.87L705.76,400.50L709.03,400.40L712.31,400.57L715.58,401.01L718.86,401.72L722.13,402.68L725.40,403.91L728.68,405.38L731.95,407.10L735.23,409.06L738.50,411.24L741.78,413.64L745.05,416.24L748.32,419.03L751.60,422.00L754.87,425.13L758.15,428.42L761.42,431.83L764.69,435.37L767.97,439.02L771.24,442.75L774.52,446.56L777.79,450.42L781.07,454.33L784.34,458.27L787.61,462.22L790.89,466.18L794.16,470.12L797.44,474.04L800.71,477.92L803.99,481.75L807.26,485.53L810.53,489.24L813.81,492.87L817.08,496.41L820.36,499.87L823.63,503.22L826.90,506.48L830.18,509.62L833.45,512.65L836.73,515.57L840.00,518.36L843.28,521.04L846.55,523.60L849.82,526.04L853.10,528.36L856.37,530.56L859.65,532.65L862.92,534.61L866.19,536.47L869.47,538.21L872.74,539.85L876.02,541.39L879.29,542.82L882.57,544.16L885.84,545.40L889.11,546.56L892.39,547.63L895.66,548.62L898.94,549.53L902.21,550.38L905.48,551.15L908.76,551.87L912.03,552.52L915.31,553.11L918.58,553.66L921.86,554.15L925.13,554.60L928.40,555.01L931.68,555.38L934.95,555.71L938.23,556.01L941.50,556.28" fill="none" stroke="#ff1010" stroke-width="1.6" stroke-linejoin="round"/>
<rect x="595.31" y="510.92" width="21.08" height="47.48" fill="#333333"/>
<rect x="596.61" y="511.92" width="18.48" height="46.48" fill="#ffffff"/>
<rect x="597.61" y="512.92" width="16.48" height="44.48" fill="#cbcbcb"/>
<rect x="615.59" y="410.22" width="21.08" height="148.18" fill="#333333"/>
<rect x="616.89" y="411.22" width="18.48" height="147.18" fill="#ffffff"/>
<rect x="617.89" y="412.22" width="16.48" height="145.18" fill="#cbcbcb"/>
<rect x="635.86" y="391.23" width="21.08" height="167.17" fill="#333333"/>
<rect x="637.16" y="392.23" width="18.48" height="166.17" fill="#ffffff"/>
<rect x="638.16" y="393.23" width="16.48" height="164.17" fill="#cbcbcb"/>
<rect x="656.14" y="352.38" width="21.08" height="206.02" fill="#333333"/>
<rect x="657.44" y="353.38" width="18.48" height="205.02" fill="#ffffff"/>
<rect x="658.44" y="354.38" width="16.48" height="203.02" fill="#cbcbcb"/>
<rect x="676.42" y="342.60" width="21.08" height="215.80" fill="#333333"/>
<rect x="677.72" y="343.60" width="18.48" height="214.80" fill="#ffffff"/>
<rect x="678.72" y="344.60" width="16.48" height="212.80" fill="#cbcbcb"/>
<rect x="696.69" y="438.70" width="21.08" height="119.70" fill="#333333"/>
<rect x="697.99" y="439.70" width="18.48" height="118.70" fill="#ffffff"/>
<rect x="698.99" y="440.70" width="16.48" height="116.70" fill="#cbcbcb"/>
<rect x="716.97" y="472.66" width="21.08" height="85.74" fill="#333333"/>
<rect x="718.27" y="473.66" width="18.48" height="84.74" fill="#ffffff"/>
<rect x="719.27" y="474.66" width="16.48" height="82.74" fill="#cbcbcb"/>
<rect x="737.25" y="496.25" width="21.08" height="62.15" fill="#333333"/>
<rect x="738.55" y="497.25" width="18.48" height="61.15" fill="#ffffff"/>
<rect x="739.55" y="498.25" width="16.48" height="59.15" fill="#cbcbcb"/>
<rect x="757.52" y="539.12" width="21.08" height="19.28" fill="#333333"/>
<rect x="758.82" y="540.12" width="18.48" height="18.28" fill="#ffffff"/>
<rect x="759.82" y="541.12" width="16.48" height="16.28" fill="#cbcbcb"/>
<rect x="777.80" y="529.91" width="21.08" height="28.49" fill="#333333"/>
<rect x="779.10" y="530.91" width="18.48" height="27.49" fill="#ffffff"/>
<rect x="780.10" y="531.91" width="16.48" height="25.49" fill="#cbcbcb"/>
<rect x="798.08" y="525.31" width="21.08" height="33.09" fill="#333333"/>
<rect x="799.38" y="526.31" width="18.48" height="32.09" fill="#ffffff"/>
<rect x="800.38" y="527.31" width="16.48" height="30.09" fill="#cbcbcb"/>
<rect x="818.35" y="529.91" width="21.08" height="28.49" fill="#333333"/>
<rect x="819.65" y="530.91" width="18.48" height="27.49" fill="#ffffff"/>
<rect x="820.65" y="531.91" width="16.48" height="25.49" fill="#cbcbcb"/>
<rect x="838.63" y="544.59" width="21.08" height="13.81" fill="#333333"/>
<rect x="839.93" y="545.59" width="18.48" height="12.81" fill="#ffffff"/>
<rect x="840.93" y="546.59" width="16.48" height="10.81" fill="#cbcbcb"/>
<rect x="879.18" y="554.08" width="21.08" height="4.32" fill="#333333"/>
<rect x="880.48" y="555.08" width="18.48" height="3.32" fill="#ffffff"/>
<rect x="881.48" y="556.08" width="16.48" height="1.32" fill="#cbcbcb"/>
<rect x="899.46" y="554.08" width="21.08" height="4.32" fill="#333333"/>
<rect x="900.76" y="555.08" width="18.48" height="3.32" fill="#ffffff"/>
<rect x="901.76" y="556.08" width="16.48" height="1.32" fill="#cbcbcb"/>
<path d="M548.60,550.45L551.20,549.51L553.79,548.49L556.38,547.36L558.98,546.14L561.58,544.81L564.17,543.36L566.76,541.79L569.36,540.10L571.96,538.28L574.55,536.32L577.14,534.22L579.74,531.98L582.34,529.59L584.93,527.05L587.52,524.35L590.12,521.50L592.72,518.49L595.31,515.33L597.90,512.01L600.50,508.54L603.10,504.93L605.69,501.17L608.28,497.27L610.88,493.24L613.48,489.09L616.07,484.82L618.66,480.46L621.26,476.01L623.86,471.48L626.45,466.90L629.05,462.27L631.64,457.62L634.24,452.96L636.83,448.32L639.43,443.71L642.02,439.15L644.62,434.67L647.21,430.29L649.81,426.03L652.40,421.90L655.00,417.94L657.59,414.17L660.19,410.60L662.78,407.25L665.38,404.15L667.97,401.32L670.57,398.76L673.16,396.49L675.75,394.53L678.35,392.90L680.95,391.59L683.54,390.62L686.13,389.99L688.73,389.72L691.33,389.79L693.92,390.21L696.51,390.97L699.11,392.08L701.71,393.52L704.30,395.29L706.89,397.38L709.49,399.76L712.09,402.44L714.68,405.38L717.28,408.59L719.87,412.02L722.47,415.68L725.06,419.53L727.65,423.56L730.25,427.74L732.85,432.06L735.44,436.48L738.03,441.00L740.63,445.58L743.23,450.21L745.82,454.86L748.41,459.51L751.01,464.16L753.61,468.77L756.20,473.33L758.80,477.83L761.39,482.24L763.99,486.57L766.58,490.79L769.17,494.89L771.77,498.87L774.37,502.71L776.96,506.42L779.56,509.97L782.15,513.38L784.75,516.63L787.34,519.73L789.93,522.68L792.53,525.47L795.12,528.10L797.72,530.58L800.32,532.91L802.91,535.09L805.50,537.13L808.10,539.04L810.69,540.80L813.29,542.44L815.88,543.96L818.48,545.36L821.08,546.65L823.67,547.83L826.26,548.92L828.86,549.91L831.45,550.81L834.05,551.63L836.64,552.37L839.24,553.05L841.84,553.66L844.43,554.20L847.03,554.70L849.62,555.14L852.21,555.53L854.81,555.88L857.40,556.20L860.00,556.48" fill="none" stroke="#ffffff" stroke-width="3.8000000000000003" stroke-linejoin="round"/>
<path d="M548.60,550.45L551.20,549.51L553.79,548.49L556.38,547.36L558.98,546.14L561.58,544.81L564.17,543.36L566.76,541.79L569.36,540.10L571.96,538.28L574.55,536.32L577.14,534.22L579.74,531.98L582.34,529.59L584.93,527.05L587.52,524.35L590.12,521.50L592.72,518.49L595.31,515.33L597.90,512.01L600.50,508.54L603.10,504.93L605.69,501.17L608.28,497.27L610.88,493.24L613.48,489.09L616.07,484.82L618.66,480.46L621.26,476.01L623.86,471.48L626.45,466.90L629.05,462.27L631.64,457.62L634.24,452.96L636.83,448.32L639.43,443.71L642.02,439.15L644.62,434.67L647.21,430.29L649.81,426.03L652.40,421.90L655.00,417.94L657.59,414.17L660.19,410.60L662.78,407.25L665.38,404.15L667.97,401.32L670.57,398.76L673.16,396.49L675.75,394.53L678.35,392.90L680.95,391.59L683.54,390.62L686.13,389.99L688.73,389.72L691.33,389.79L693.92,390.21L696.51,390.97L699.11,392.08L701.71,393.52L704.30,395.29L706.89,397.38L709.49,399.76L712.09,402.44L714.68,405.38L717.28,408.59L719.87,412.02L722.47,415.68L725.06,419.53L727.65,423.56L730.25,427.74L732.85,432.06L735.44,436.48L738.03,441.00L740.63,445.58L743.23,450.21L745.82,454.86L748.41,459.51L751.01,464.16L753.61,468.77L756.20,473.33L758.80,477.83L761.39,482.24L763.99,486.57L766.58,490.79L769.17,494.89L771.77,498.87L774.37,502.71L776.96,506.42L779.56,509.97L782.15,513.38L784.75,516.63L787.34,519.73L789.93,522.68L792.53,525.47L795.12,528.10L797.72,530.58L800.32,532.91L802.91,535.09L805.50,537.13L808.10,539.04L810.69,540.80L813.29,542.44L815.88,543.96L818.48,545.36L821.08,546.65L823.67,547.83L826.26,548.92L828.86,549.91L831.45,550.81L834.05,551.63L836.64,552.37L839.24,553.05L841.84,553.66L844.43,554.20L847.03,554.70L849.62,555.14L852.21,555.53L854.81,555.88L857.40,556.20L860.00,556.48" fill="none" stroke="#000" stroke-width="1.6" stroke-linejoin="round"/>
<rect x="548.00" y="342.60" width="477.10" height="215.80" fill="none" stroke="#3c3c3c" stroke-width="1.2"/>
<path d="M548.00,558.40v-4.5M548.00,342.60v4.5M607.64,558.40v-4.5M607.64,342.60v4.5M667.27,558.40v-4.5M667.27,342.60v4.5M726.91,558.40v-4.5M726.91,342.60v4.5M786.55,558.40v-4.5M786.55,342.60v4.5M846.19,558.40v-4.5M846.19,342.60v4.5M905.83,558.40v-4.5M905.83,342.60v4.5M965.46,558.40v-4.5M965.46,342.60v4.5M1025.10,558.40v-4.5M1025.10,342.60v4.5M548.00,558.40h4.5M1025.10,558.40h-4.5M548.00,510.44h4.5M1025.10,510.44h-4.5M548.00,462.49h4.5M1025.10,462.49h-4.5M548.00,414.53h4.5M1025.10,414.53h-4.5M548.00,366.58h4.5M1025.10,366.58h-4.5" stroke="#3c3c3c" stroke-width="1.1" fill="none"/>
<text transform="translate(548.00,571.80) scale(0.88,1)" text-anchor="middle" class="tk">0</text>
<text transform="translate(607.64,571.80) scale(0.88,1)" text-anchor="middle" class="tk">0.05</text>
<text transform="translate(667.27,571.80) scale(0.88,1)" text-anchor="middle" class="tk">0.1</text>
<text transform="translate(726.91,571.80) scale(0.88,1)" text-anchor="middle" class="tk">0.15</text>
<text transform="translate(786.55,571.80) scale(0.88,1)" text-anchor="middle" class="tk">0.2</text>
<text transform="translate(846.19,571.80) scale(0.88,1)" text-anchor="middle" class="tk">0.25</text>
<text transform="translate(905.83,571.80) scale(0.88,1)" text-anchor="middle" class="tk">0.3</text>
<text transform="translate(965.46,571.80) scale(0.88,1)" text-anchor="middle" class="tk">0.35</text>
<text transform="translate(1025.10,571.80) scale(0.88,1)" text-anchor="middle" class="tk">0.4</text>
<text transform="translate(536.60,562.40) scale(0.88,1)" text-anchor="middle" class="tk">0</text>
<text transform="translate(536.60,514.44) scale(0.88,1)" text-anchor="middle" class="tk">17</text>
<text transform="translate(536.60,466.49) scale(0.88,1)" text-anchor="middle" class="tk">33</text>
<text transform="translate(536.60,418.53) scale(0.88,1)" text-anchor="middle" class="tk">50</text>
<text transform="translate(536.60,370.58) scale(0.88,1)" text-anchor="middle" class="tk">67</text>
<text id="td" x="709.60" y="321.40" textLength="121.47" lengthAdjust="spacingAndGlyphs" class="tt" style="font-size:20px" clip-path="url(#c6)">Histology(AKI)</text>
<text id="xd" x="716.60" y="595.40" textLength="122.27" lengthAdjust="spacingAndGlyphs" class="tt" style="font-size:19.3px" clip-path="url(#c7)">Diameter(mm)</text>
<rect x="588.3" y="350.9" width="4.6" height="38.8" fill="#3b6d1f"/>
<path d="M589.0,368.2C587.0,365.8 584.3,364.55 580.9,364.55C574.8,364.55 570.6,369.6 570.6,376.6C570.6,383.6 574.6,388.15 580.5,388.15C584.0,388.15 586.9,386.6 589.0,383.6" fill="none" stroke="#3b6d1f" stroke-width="4.0"/>
<text id="gd0" x="783.40" y="378.20" textLength="113.61" lengthAdjust="spacingAndGlyphs" class="tt" style="font-size:17.5px">min Diameter</text>
<rect x="926.50" y="369.90" width="87.00" height="7.80" fill="#0000ff"/>
<text id="gd1" x="780.80" y="392.00" textLength="118.03" lengthAdjust="spacingAndGlyphs" class="tt" style="font-size:17.5px">max Diameter</text>
<rect x="926.50" y="383.00" width="87.00" height="8.00" fill="#ff0000"/>
<text id="gd2" x="771.00" y="406.90" textLength="151.00" lengthAdjust="spacingAndGlyphs" class="tt" style="font-size:17.5px">Average Diameter</text>
<rect x="926.50" y="397.50" width="87.00" height="8.00" fill="#111111"/>
<rect x="139.4" y="644.1" width="780.90" height="332.50" fill="#f7f7f7"/>
<rect x="137.8" y="642.5" width="784.10" height="335.70" fill="none" stroke="#222" stroke-width="1.3"/>
<path d="M202.80,978.2v-7M202.80,642.5v7M333.40,978.2v-7M333.40,642.5v7M464.30,978.2v-7M464.30,642.5v7M595.20,978.2v-7M595.20,642.5v7M726.20,978.2v-7M726.20,642.5v7M857.00,978.2v-7M857.00,642.5v7M137.8,965.90h7M921.9,965.90h-7M137.8,902.68h7M921.9,902.68h-7M137.8,839.46h7M921.9,839.46h-7M137.8,776.24h7M921.9,776.24h-7M137.8,713.02h7M921.9,713.02h-7M137.8,649.80h7M921.9,649.80h-7" stroke="#3c3c3c" stroke-width="1.2" fill="none"/>
<text transform="translate(130.9,971.80) scale(0.92,1)" text-anchor="end" class="ek">0.1</text>
<text transform="translate(130.9,908.58) scale(0.92,1)" text-anchor="end" class="ek">0.15</text>
<text transform="translate(130.9,845.36) scale(0.92,1)" text-anchor="end" class="ek">0.2</text>
<text transform="translate(130.9,782.14) scale(0.92,1)" text-anchor="end" class="ek">0.25</text>
<text transform="translate(130.9,718.92) scale(0.92,1)" text-anchor="end" class="ek">0.3</text>
<text transform="translate(130.9,655.70) scale(0.92,1)" text-anchor="end" class="ek">0.35</text>
<polygon points="169.90,880.90 235.50,880.90 235.50,889.10 219.10,898.60 235.50,906.80 235.50,909.70 169.90,909.70 169.90,906.80 186.30,898.60 169.90,889.10" fill="none" stroke="#1a1a1a" stroke-width="1.3" stroke-linejoin="round"/>
<path d="M186.30,898.60H219.10" stroke="#7a7a7a" stroke-width="1.2"/>
<path d="M202.70,880.90V871.10" stroke="#1a1a1a" stroke-width="1.2" stroke-dasharray="8,5" fill="none"/>
<path d="M202.70,909.70V932.00" stroke="#1a1a1a" stroke-width="1.2" stroke-dasharray="8,5" fill="none"/>
<path d="M186.70,871.10H218.70M186.70,932.00H218.70" stroke="#1a1a1a" stroke-width="1.3"/>
<path d="M198.70,954.60h8M202.70,950.60v8" stroke="#444" stroke-width="1"/>
<path d="M198.70,963.60h8M202.70,959.60v8" stroke="#444" stroke-width="1"/>
<polygon points="300.50,898.90 366.10,898.90 366.10,902.90 349.70,912.90 366.10,922.90 366.10,928.60 300.50,928.60 300.50,922.90 316.90,912.90 300.50,902.90" fill="none" stroke="#1a1a1a" stroke-width="1.3" stroke-linejoin="round"/>
<path d="M316.90,912.90H349.70" stroke="#7a7a7a" stroke-width="1.2"/>
<path d="M333.30,898.90V875.00" stroke="#1a1a1a" stroke-width="1.2" stroke-dasharray="8,5" fill="none"/>
<path d="M333.30,928.60V962.10" stroke="#1a1a1a" stroke-width="1.2" stroke-dasharray="8,5" fill="none"/>
<path d="M317.30,875.00H349.30M317.30,962.10H349.30" stroke="#1a1a1a" stroke-width="1.3"/>
<path d="M329.30,847.10h8M333.30,843.10v8" stroke="#444" stroke-width="1"/>
<polygon points="431.60,880.40 497.20,880.40 497.20,891.40 480.80,902.00 497.20,913.00 497.20,913.20 431.60,913.20 431.60,913.00 448.00,902.00 431.60,891.40" fill="none" stroke="#1a1a1a" stroke-width="1.3" stroke-linejoin="round"/>
<path d="M448.00,902.00H480.80" stroke="#7a7a7a" stroke-width="1.2"/>
<path d="M464.40,880.40V861.00" stroke="#1a1a1a" stroke-width="1.2" stroke-dasharray="8,5" fill="none"/>
<path d="M464.40,913.20V957.00" stroke="#1a1a1a" stroke-width="1.2" stroke-dasharray="8,5" fill="none"/>
<path d="M448.40,861.00H480.40M448.40,957.00H480.40" stroke="#1a1a1a" stroke-width="1.3"/>
<path d="M460.40,790.00h8M464.40,786.00v8" stroke="#444" stroke-width="1"/>
<path d="M460.40,816.60h8M464.40,812.60v8" stroke="#444" stroke-width="1"/>
<polygon points="562.40,750.00 628.00,750.00 628.00,766.40 611.60,782.80 628.00,799.00 628.00,803.40 562.40,803.40 562.40,799.00 578.80,782.80 562.40,766.40" fill="none" stroke="#1a1a1a" stroke-width="1.3" stroke-linejoin="round"/>
<path d="M578.80,782.80H611.60" stroke="#7a7a7a" stroke-width="1.2"/>
<path d="M595.20,750.00V686.40" stroke="#1a1a1a" stroke-width="1.2" stroke-dasharray="8,5" fill="none"/>
<path d="M595.20,803.40V835.60" stroke="#1a1a1a" stroke-width="1.2" stroke-dasharray="8,5" fill="none"/>
<path d="M579.20,686.40H611.20M579.20,835.60H611.20" stroke="#1a1a1a" stroke-width="1.3"/>
<path d="M591.20,657.60h8M595.20,653.60v8" stroke="#444" stroke-width="1"/>
<polygon points="693.50,759.60 759.10,759.60 759.10,779.60 742.70,807.10 759.10,832.90 759.10,849.60 693.50,849.60 693.50,832.90 709.90,807.10 693.50,779.60" fill="none" stroke="#1a1a1a" stroke-width="1.3" stroke-linejoin="round"/>
<path d="M709.90,807.10H742.70" stroke="#7a7a7a" stroke-width="1.2"/>
<path d="M726.30,759.60V658.50" stroke="#1a1a1a" stroke-width="1.2" stroke-dasharray="8,5" fill="none"/>
<path d="M726.30,849.60V900.20" stroke="#1a1a1a" stroke-width="1.2" stroke-dasharray="8,5" fill="none"/>
<path d="M710.30,658.50H742.30M710.30,900.20H742.30" stroke="#1a1a1a" stroke-width="1.3"/>
<polygon points="824.30,782.60 889.90,782.60 889.90,799.90 873.50,815.40 889.90,831.10 889.90,832.80 824.30,832.80 824.30,831.10 840.70,815.40 824.30,799.90" fill="none" stroke="#1a1a1a" stroke-width="1.3" stroke-linejoin="round"/>
<path d="M840.70,815.40H873.50" stroke="#7a7a7a" stroke-width="1.2"/>
<path d="M857.10,782.60V720.40" stroke="#1a1a1a" stroke-width="1.2" stroke-dasharray="8,5" fill="none"/>
<path d="M857.10,832.80V887.20" stroke="#1a1a1a" stroke-width="1.2" stroke-dasharray="8,5" fill="none"/>
<path d="M841.10,720.40H873.10M841.10,887.20H873.10" stroke="#1a1a1a" stroke-width="1.3"/>
<path d="M853.10,695.10h8M857.10,691.10v8" stroke="#444" stroke-width="1"/>
<text id="yl" transform="translate(82.2,914.3) rotate(-90)" textLength="175" lengthAdjust="spacingAndGlyphs" class="tt" style="font-size:19.8px">Vessel Diameter (mm)</text>
<path d="M46.2,673.6H63.4C63.4,666.7 59.6,662.6 54.3,662.6C48.3,662.6 44.6,667.4 44.6,674.5C44.6,681.9 48.7,686.2 55.1,686.2C58.6,686.2 61.4,685.6 63.9,684.3" fill="none" stroke="#3b6d1f" stroke-width="3.7"/>
<g fill="#3b6d1f"><rect x="221.9" y="996" width="4.6" height="36.4"/><rect x="244.6" y="996" width="4.6" height="36.4"/><rect x="221.9" y="1011.2" width="27.3" height="3.8"/><rect x="311.2" y="994" width="4.6" height="38.4"/><rect x="320.9" y="1006.1" width="15.5" height="3.5"/><rect x="342.0" y="994" width="4.6" height="38.4"/></g>
<g fill="none" stroke="#3b6d1f"><path transform="translate(212.9,344.6)" stroke-width="3.6" d="M46.2,673.6H63.4C63.4,666.7 59.6,662.6 54.3,662.6C48.3,662.6 44.6,667.4 44.6,674.5C44.6,681.9 48.7,686.2 55.1,686.2C58.6,686.2 61.4,685.6 63.9,684.3"/><path transform="translate(226.1,957.8)" stroke-width="3.4" d="M59.4,51.7C61.7,50.1 64.2,49.3 67.1,49.3C72.5,49.3 75.5,52.2 75.5,57.8V74.8"/><path transform="translate(226.1,957.8)" stroke-width="3.6" d="M75.5,59.5H68.6C62.6,59.5 59.0,62.4 59.0,66.6C59.0,70.6 61.7,73.0 65.4,73.0C69.8,73.0 73.3,70.6 75.5,66.9"/><path stroke-width="4.6" d="M327.6,999.0V1025.8C327.6,1029.9 329.5,1030.9 332.6,1030.9C333.9,1030.9 335.2,1030.7 336.4,1030.4"/><path stroke-width="4.5" d="M344.3,1013.8C346.2,1009.6 349.6,1007.5 353.6,1007.5C359.0,1007.5 362.0,1010.7 362.0,1017.0V1032.4"/><path stroke-width="4.3" d="M370.9,1006.1L381.3,1031.6"/><path stroke-width="4.3" d="M390.2,1006.1L381.2,1031.4C378.9,1037.8 375.9,1041.0 371.2,1042.4"/></g>
<g clip-path="url(#cak)" fill="none" stroke="#3b6d1f" stroke-width="4.3"><path d="M678.2,1035L692.2,996.7L706.2,1035" stroke-linejoin="bevel"/><path d="M715.9,1022.5L736.6,994.5"/><path d="M720.6,1012.2L738.2,1035"/></g>
<g fill="#3b6d1f"><rect x="683.6" y="1017.5" width="17.2" height="3.2"/><rect x="712.6" y="996.0" width="4.6" height="36.3"/><rect x="742.0" y="996.0" width="4.6" height="36.3"/></g>
<defs><clipPath id="c0"><rect x="209.80" y="-16.40" width="126.05" height="43.30"/></clipPath><clipPath id="c1"><rect x="204.20" y="240.90" width="142.06" height="42.80"/></clipPath><clipPath id="c2"><rect x="680.60" y="-16.00" width="176.47" height="43.30"/></clipPath><clipPath id="c3"><rect x="719.60" y="240.90" width="142.09" height="42.80"/></clipPath><clipPath id="c4"><rect x="209.40" y="281.00" width="92.09" height="43.30"/></clipPath><clipPath id="c5"><rect x="194.20" y="555.40" width="142.43" height="42.80"/></clipPath><clipPath id="c6"><rect x="699.60" y="281.40" width="141.47" height="43.30"/></clipPath><clipPath id="c7"><rect x="706.60" y="555.40" width="142.27" height="42.80"/></clipPath><clipPath id="cak"><rect x="660" y="995.9" width="100" height="36.5"/></clipPath></defs>
</svg></body></html>
